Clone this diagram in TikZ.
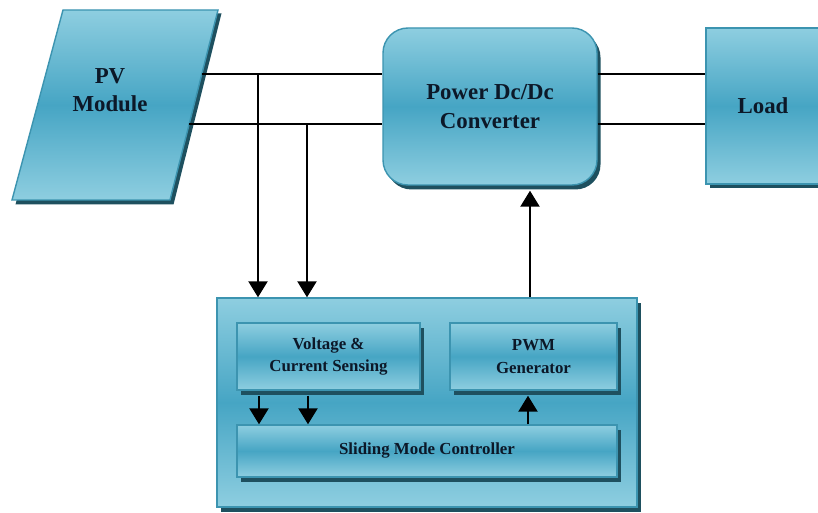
\documentclass[tikz,border=0pt]{standalone}
\usepackage{fontspec}
\setmainfont{Liberation Serif}
\usetikzlibrary{calc}
\usetikzlibrary{shadows}
\usetikzlibrary{arrows.meta}
\definecolor{boxtop}{RGB}{142,206,224}
\definecolor{boxmid}{RGB}{70,165,196}
\definecolor{boxedge}{RGB}{60,148,176}
\definecolor{boxshade}{RGB}{30,80,95}
\definecolor{labelc}{RGB}{12,24,40}
\tikzset{
  block/.style={draw=boxedge, line width=0.8pt, top color=boxtop, bottom color=boxtop,
    middle color=boxmid, text=labelc, font=\bfseries\fontsize{13}{16.5}\selectfont,
    align=center, inner sep=0pt,
    drop shadow={shadow xshift=0.07cm, shadow yshift=-0.09cm, fill=boxshade, opacity=1}},
  small/.style={font=\bfseries\fontsize{9.6}{13}\selectfont},
  wire/.style={line width=0.9pt},
  arr/.style={line width=1.3pt, -{Triangle[width=0.38cm,length=0.32cm]}},
}

\begin{document}
\begin{tikzpicture}
      \useasboundingbox[fill=white] (0,0) rectangle (16.36,10.24);

      % pv module
      \fill[boxshade] (1.33,9.97) -- (4.43,9.97) -- (3.47,6.15) -- (0.31,6.15) -- cycle;
      \path[draw=boxedge, line width=0.8pt, top color=boxtop, bottom color=boxtop, middle color=boxmid]
        (1.26,10.04) -- (4.36,10.04) -- (3.40,6.24) -- (0.24,6.24) -- cycle;
      \node[text=labelc, font=\bfseries\fontsize{13}{16}\selectfont, align=center] (pv) at (2.2,8.44) {PV\\Module};
      \coordinate (pvA) at (4.04,8.76);
      \coordinate (pvB) at (3.78,7.76);

      \node[block, rounded corners=0.5cm, minimum width=4.28cm, minimum height=3.14cm] (conv) at (9.80,8.11) {Power Dc/Dc\\Converter};
      \node[block, minimum width=2.28cm, minimum height=3.12cm] (load) at (15.26,8.12) {Load};

      % controller
      \node[block, minimum width=8.4cm, minimum height=4.18cm] (ctrl) at (8.54,2.19) {};
      \node[block, small, minimum width=3.66cm, minimum height=1.34cm] (sens) at (6.57,3.11) {Voltage \&\\Current Sensing};
      \node[block, small, minimum width=3.34cm, minimum height=1.34cm] (pwm) at (10.67,3.11) {PWM\\Generator};
      \node[block, small, minimum width=7.6cm, minimum height=1.04cm] (smc) at (8.54,1.22) {Sliding Mode Controller};

      \draw[wire] (pvA) -- (pvA -| conv.west);
      \draw[wire] (pvB) -- (pvB -| conv.west);
      \draw[wire] (conv.east |- pvA) -- (load.west |- pvA);
      \draw[wire] (conv.east |- pvB) -- (load.west |- pvB);

      \coordinate (tapA) at (5.16,8.76);
      \coordinate (tapB) at (6.14,7.76);
      \draw[arr] (tapA) -- (tapA |- ctrl.north);
      \draw[arr] (tapB) -- (tapB |- ctrl.north);
      \draw[arr] (ctrl.north -| 10.6,0) -- ($(conv.south -| 10.6,0)+(0,-0.1)$);

      \draw[arr] ($(sens.south -| 5.18,0)+(0,-0.1)$) -- (smc.north -| 5.18,0);
      \draw[arr] ($(sens.south -| 6.16,0)+(0,-0.1)$) -- (smc.north -| 6.16,0);
      \draw[arr] (smc.north -| 10.56,0) -- ($(pwm.south -| 10.56,0)+(0,-0.1)$);
  \end{tikzpicture}
\end{document}
